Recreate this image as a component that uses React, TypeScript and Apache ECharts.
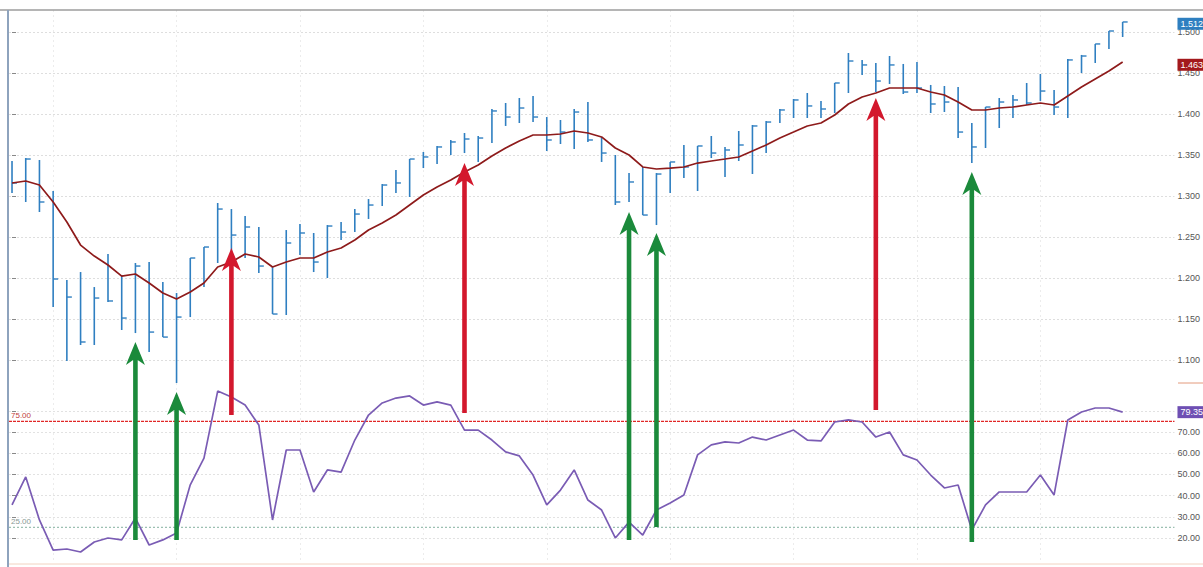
import React, { useEffect, useRef } from "react";
import * as echarts from "echarts";

// ---- price bars (high / low / close) ----
const highs = [1.3427,1.3463,1.3439,1.3061,1.1976,1.2073,1.1890,1.2293,1.2037,1.2183,
1.2195,1.1951,1.1817,1.2244,1.2378,1.2915,1.2841,1.2756,1.2622,1.2134,
1.2585,1.2659,1.2549,1.2646,1.2683,1.2841,1.2963,1.3146,1.3317,1.3451,
1.3537,1.3610,1.3683,1.3768,1.3732,1.4061,1.4134,1.4195,1.4220,1.3963,
1.3927,1.4061,1.4146,1.3720,1.3500,1.3280,1.3354,1.3280,1.3415,1.3622,
1.3610,1.3732,1.3598,1.3793,1.3866,1.3915,1.4061,1.4183,1.4256,1.4159,
1.4378,1.4744,1.4659,1.4622,1.4707,1.4610,1.4634,1.4354,1.4341,1.4329,
1.3890,1.4085,1.4195,1.4232,1.4378,1.4488,1.4293,1.4671,1.4720,1.4854,
1.5012,1.5122];
const lows = [1.3037,1.2927,1.2805,1.1646,1.0988,1.1183,1.1183,1.1707,1.1366,1.1329,
1.1098,1.1280,1.0720,1.1524,1.1890,1.2183,1.2134,1.2244,1.2061,1.1561,
1.1549,1.2280,1.2073,1.2000,1.2463,1.2561,1.2720,1.2878,1.3037,1.2988,
1.3341,1.3390,1.3500,1.3524,1.3415,1.3646,1.3854,1.3890,1.3902,1.3549,
1.3634,1.3573,1.3659,1.3415,1.2890,1.2927,1.2768,1.2646,1.3037,1.3220,
1.3061,1.3463,1.3232,1.3427,1.3268,1.3524,1.3890,1.3951,1.3951,1.3951,
1.4012,1.4256,1.4476,1.4268,1.4366,1.4244,1.4256,1.4012,1.4024,1.3707,
1.3402,1.3585,1.3829,1.3951,1.4110,1.4159,1.3988,1.3951,1.4500,1.4622,
1.4793,1.4939];
const closes = [1.3159,1.3451,1.2927,1.1988,1.1768,1.1220,1.1756,1.1720,1.1512,1.2146,
1.1341,1.1280,1.1524,1.2244,1.2378,1.2841,1.2524,1.2622,1.2146,1.1561,
1.2427,1.2549,1.2195,1.2634,1.2561,1.2780,1.2890,1.3134,1.3159,1.3451,
1.3476,1.3598,1.3659,1.3695,1.3707,1.4037,1.3963,1.4073,1.3963,1.3683,
1.3780,1.4024,1.3683,1.3524,1.2927,1.3171,1.2768,1.3268,1.3415,1.3354,
1.3610,1.3524,1.3561,1.3622,1.3854,1.3902,1.4049,1.4171,1.4098,1.4061,
1.4378,1.4646,1.4598,1.4402,1.4598,1.4268,1.4317,1.4122,1.4146,1.3780,
1.3598,1.4085,1.4146,1.4171,1.4134,1.4280,1.4085,1.4659,1.4707,1.4854,
1.5012,1.5122];

// ---- moving average ----
const maValues = [1.3159,1.3183,1.3134,1.2927,1.2683,1.2402,1.2268,1.2159,1.2024,1.2049,
1.1939,1.1817,1.1744,1.1829,1.1939,1.2134,1.2195,1.2293,1.2256,1.2134,
1.2195,1.2244,1.2244,1.2317,1.2366,1.2463,1.2585,1.2671,1.2768,1.2890,
1.3012,1.3110,1.3195,1.3293,1.3378,1.3488,1.3585,1.3671,1.3744,1.3744,
1.3756,1.3793,1.3768,1.3720,1.3585,1.3500,1.3354,1.3329,1.3341,1.3354,
1.3402,1.3427,1.3451,1.3476,1.3549,1.3622,1.3707,1.3780,1.3854,1.3890,
1.3988,1.4122,1.4207,1.4256,1.4317,1.4317,1.4317,1.4268,1.4232,1.4146,
1.4049,1.4049,1.4073,1.4085,1.4110,1.4134,1.4110,1.4220,1.4329,1.4427,
1.4524,1.4634];

// ---- RSI ----
const rsiValues = [35.6,48.8,28.5,14.3,14.8,13.4,18.1,20.0,19.1,29.4,
16.7,19.1,22.4,45.1,57.7,89.3,86.5,82.7,73.3,28.5,
61.5,61.5,41.7,52.1,51.1,66.2,78.0,83.7,86.0,87.0,
82.7,84.2,82.7,70.9,70.9,66.2,60.6,58.7,49.7,35.6,
42.6,52.1,37.9,33.2,20.0,27.5,21.4,33.2,36.5,40.3,
59.2,63.9,65.3,64.8,67.6,66.2,68.6,70.9,66.2,65.8,
74.7,75.7,74.7,67.6,70.0,59.2,56.8,49.7,43.6,45.0,
23.8,35.6,41.7,41.7,41.7,49.7,40.3,75.7,79.4,81.3,
81.3,79.35];

const priceTicks = [1.1, 1.15, 1.2, 1.25, 1.3, 1.35, 1.4, 1.45, 1.5];
const rsiTicks = [20, 30, 40, 50, 60, 70, 80];
const rsiLabelTicks = [20, 30, 40, 50, 60, 70];
const timeGridTicks = [3, 12, 21, 30, 39, 48, 57, 66, 75];
const rsiUpper = 75;
const rsiLower = 25;

// ---- signals (arrows) ----
const signalIndex = [9, 12, 16, 33, 45, 47, 63, 70];
const signalType = ["buy", "buy", "sell", "sell", "buy", "buy", "sell", "buy"];
const signalTipPrice = [1.1220, 1.0610, 1.2366, 1.3402, 1.2805, 1.2549, 1.4195, 1.3293];
const signalBaseRsi = [19.1, 19.1, 78.0, 79.0, 19.1, 25.2, 80.4, 18.1];

const FONT = "Liberation Sans, Arial, sans-serif";
const BAR_COLOR = "#2f7fc1";
const MA_COLOR = "#8e1b1b";
const RSI_COLOR = "#7a5cb4";
const HIDDEN = "rgba(255,255,255,0)";
const X_MIN = -0.22;
const X_MAX = 84.78;

const boxLabel = (text: string, bg: string) => ({
  show: true,
  position: "end",
  distance: 3,
  formatter: text,
  backgroundColor: bg,
  color: "#ffffff",
  padding: [2, 3, 1, 3],
  fontSize: 9,
  fontFamily: FONT,
});

const levelLabel = (text: string, color: string) => ({
  show: true,
  position: "insideStartTop",
  distance: 2,
  formatter: text,
  color,
  fontSize: 8,
  fontFamily: FONT,
});

export default function App() {
  const ref = useRef<HTMLDivElement>(null);

  useEffect(() => {
    const chart = echarts.init(ref.current!, null, { renderer: "svg" });
    const last = closes.length - 1;
    const bars = highs.map((h, i) => [i, h, lows[i], closes[i]]);

    const xAxisBase = {
      type: "value",
      min: X_MIN,
      max: X_MAX,
      axisLabel: { show: false },
      axisLine: { show: false },
      axisTick: { show: false, customValues: timeGridTicks },
      splitLine: { show: true, lineStyle: { color: "#ececec", type: [2, 3], width: 1 } },
    };

    const levelSeries = (level: number, color: string, width: number, dash: number[]) => ({
      type: "line",
      xAxisIndex: 1,
      yAxisIndex: 1,
      data: [[X_MIN, level], [X_MAX, level]],
      symbol: "none",
      showSymbol: false,
      silent: true,
      z: 2,
      lineStyle: { color, width, type: dash },
    });

    const option: any = {
      animation: false,
      backgroundColor: "#ffffff",
      grid: [
        { left: 9, right: 27, top: 10, height: 373 },
        { left: 9, right: 27, top: 383, height: 179 },
      ],
      xAxis: [
        { ...xAxisBase, gridIndex: 0 },
        { ...xAxisBase, gridIndex: 1 },
      ],
      yAxis: [
        {
          gridIndex: 0,
          type: "value",
          position: "right",
          min: 1.072,
          max: 1.5268,
          axisLine: { show: false },
          axisTick: { show: true, length: 4, customValues: priceTicks, lineStyle: { color: "#888" } },
          axisLabel: {
            customValues: priceTicks,
            margin: 3,
            fontSize: 9,
            color: "#555",
            fontFamily: FONT,
            formatter: (v: number) => v.toFixed(3),
          },
          splitLine: { show: true, lineStyle: { color: "#dedede", type: [2, 2] } },
        },
        {
          gridIndex: 1,
          type: "value",
          position: "right",
          min: 8.68,
          max: 93.1,
          axisLine: { show: false },
          axisTick: { show: true, length: 4, customValues: rsiTicks, lineStyle: { color: "#888" } },
          axisLabel: {
            customValues: rsiLabelTicks,
            margin: 3,
            fontSize: 9,
            color: "#555",
            fontFamily: FONT,
            formatter: (v: number) => v.toFixed(2),
          },
          splitLine: { show: true, lineStyle: { color: "#e2e2e2", type: [2, 2] } },
        },
      ],
      series: [
        {
          type: "custom",
          name: "Price",
          xAxisIndex: 0,
          yAxisIndex: 0,
          encode: { x: 0, y: [1, 2, 3] },
          data: bars,
          z: 3,
          renderItem: (params: any, api: any) => {
            const i = api.value(0);
            const hi = api.coord([i, api.value(1)]);
            const lo = api.coord([i, api.value(2)]);
            const cl = api.coord([i, api.value(3)]);
            return {
              type: "group",
              children: [
                {
                  type: "line",
                  shape: { x1: hi[0], y1: hi[1], x2: lo[0], y2: lo[1] },
                  style: { stroke: BAR_COLOR, lineWidth: 1.6 },
                },
                {
                  type: "line",
                  shape: { x1: cl[0], y1: cl[1], x2: cl[0] + 5, y2: cl[1] },
                  style: { stroke: BAR_COLOR, lineWidth: 1.4 },
                },
              ],
            };
          },
        },
        {
          type: "line",
          name: "MA",
          xAxisIndex: 0,
          yAxisIndex: 0,
          data: maValues.map((v, i) => [i, v]),
          showSymbol: false,
          symbol: "none",
          z: 4,
          lineStyle: { color: MA_COLOR, width: 1.7 },
          markLine: {
            silent: true,
            symbol: "none",
            animation: false,
            lineStyle: { color: HIDDEN, width: 1, type: "solid" },
            data: [
              { yAxis: closes[last], label: boxLabel(closes[last].toFixed(3), "#2e7fc0") },
              { yAxis: maValues[last], label: boxLabel(maValues[last].toFixed(3), "#a3191c") },
            ],
          },
        },
        levelSeries(rsiUpper, "#e02828", 1.4, [3, 1]),
        levelSeries(rsiLower, "#9cc0b2", 1.1, [2, 2]),
        {
          type: "line",
          name: "RSI",
          xAxisIndex: 1,
          yAxisIndex: 1,
          data: rsiValues.map((v, i) => [i, v]),
          showSymbol: false,
          symbol: "none",
          z: 4,
          lineStyle: { color: RSI_COLOR, width: 1.7 },
          markLine: {
            silent: true,
            symbol: "none",
            animation: false,
            lineStyle: { color: HIDDEN, width: 1, type: "solid" },
            data: [
              { yAxis: rsiUpper, label: levelLabel(rsiUpper.toFixed(2), "#c04040") },
              { yAxis: rsiLower, label: levelLabel(rsiLower.toFixed(2), "#8a9a96") },
              { yAxis: rsiValues[last], label: boxLabel(rsiValues[last].toFixed(2), "#6e4fb3") },
            ],
          },
        },
      ],
    };

    chart.setOption(option);

    const arrows = signalIndex.map((idx, k) => {
      const tip = chart.convertToPixel({ xAxisIndex: 0, yAxisIndex: 0 }, [idx, signalTipPrice[k]]) as number[];
      const base = chart.convertToPixel({ xAxisIndex: 1, yAxisIndex: 1 }, [idx, signalBaseRsi[k]]) as number[];
      const x = tip[0];
      const ty = tip[1];
      const by = base[1];
      const sw = 2.3;
      const hw = 9.5;
      return {
        type: "polygon",
        z: 100,
        silent: true,
        shape: {
          points: [
            [x - sw, by],
            [x - sw, ty + 18],
            [x - hw, ty + 23],
            [x, ty],
            [x + hw, ty + 23],
            [x + sw, ty + 18],
            [x + sw, by],
          ],
        },
        style: { fill: signalType[k] === "buy" ? "#1b8a3b" : "#d3182d" },
      };
    });

    chart.setOption({
      graphic: [
        { type: "line", silent: true, z: 50, shape: { x1: 0, y1: 10, x2: 1203, y2: 10 }, style: { stroke: "#9c9c9c", lineWidth: 1.5 } },
        { type: "line", silent: true, z: 50, shape: { x1: 8, y1: 10, x2: 8, y2: 567 }, style: { stroke: "#8ea3bd", lineWidth: 2 } },
        { type: "line", silent: true, z: 50, shape: { x1: 1178, y1: 383, x2: 1203, y2: 383 }, style: { stroke: "#e39a7c", lineWidth: 1 } },
        { type: "line", silent: true, z: 50, shape: { x1: 9, y1: 564, x2: 1203, y2: 564 }, style: { stroke: "#f2d2c0", lineWidth: 1 } },
        ...arrows,
      ],
    });

    return () => chart.dispose();
  }, []);

  return (
    <div
      ref={ref}
      style={{ position: "fixed", left: 0, top: 0, width: 1203, height: 567, background: "#ffffff" }}
    />
  );
}
